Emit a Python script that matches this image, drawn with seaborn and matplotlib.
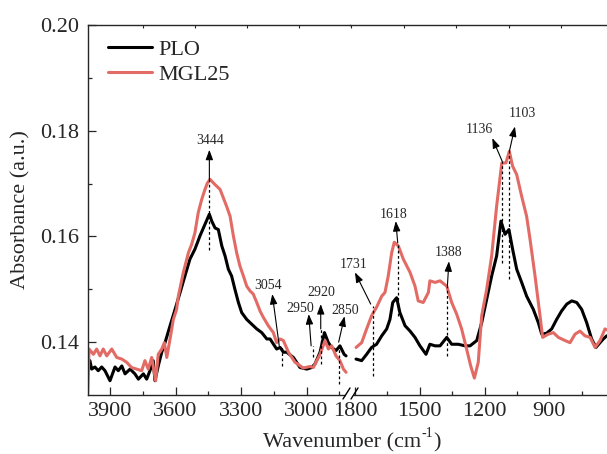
import numpy as np
import pandas as pd
import matplotlib
matplotlib.use("Agg")
import matplotlib.pyplot as plt
import seaborn as sns
from matplotlib.lines import Line2D
from matplotlib.patches import Rectangle

# ---------------- data ----------------
series_names = ["PLO", "MGL25"]

# high-wavenumber segment (4000-2800 cm-1)
plo_hi_wn = [3992, 3984, 3969, 3954, 3938, 3923, 3900, 3877, 3862, 3846, 3831, 3808, 3786, 3770,
             3747, 3732, 3717, 3702, 3694, 3679, 3663, 3648, 3625, 3602, 3579, 3557, 3534, 3511,
             3488, 3465, 3445, 3434, 3419, 3404, 3388, 3373, 3358, 3343, 3328, 3312, 3297, 3274,
             3251, 3228, 3205, 3182, 3167, 3137, 3121, 3106, 3091, 3060, 3030, 2999, 2976, 2961,
             2938, 2918, 2900, 2885, 2865, 2847, 2828, 2819]
plo_hi_abs = [0.1365, 0.1349, 0.1353, 0.1346, 0.1353, 0.1346, 0.1327, 0.1353, 0.1346, 0.1355, 0.1340, 0.1349, 0.1340, 0.1330,
              0.1340, 0.1330, 0.1346, 0.1365, 0.1327, 0.1355, 0.1381, 0.1399, 0.1431, 0.1462, 0.1494, 0.1525, 0.1557, 0.1576,
              0.1601, 0.1623, 0.1642, 0.1629, 0.1616, 0.1613, 0.1582, 0.1563, 0.1538, 0.1525, 0.1500, 0.1475, 0.1456, 0.1443,
              0.1434, 0.1425, 0.1418, 0.1406, 0.1406, 0.1387, 0.1390, 0.1381, 0.1381, 0.1371, 0.1352, 0.1349, 0.1352, 0.1359,
              0.1381, 0.1418, 0.1399, 0.1390, 0.1384, 0.1393, 0.1377, 0.1374]

mgl_hi_wn = [4003, 3996, 3976, 3961, 3946, 3931, 3915, 3892, 3869, 3846, 3824, 3801, 3778, 3755,
             3740, 3725, 3709, 3691, 3679, 3663, 3651, 3640, 3625, 3610, 3595, 3587, 3564, 3541,
             3526, 3511, 3496, 3480, 3465, 3454, 3442, 3419, 3396, 3381, 3366, 3350, 3335, 3320,
             3305, 3289, 3274, 3259, 3244, 3228, 3213, 3198, 3175, 3152, 3137, 3121, 3106, 3083,
             3053, 3015, 2984, 2969, 2938, 2915, 2900, 2885, 2865, 2847, 2831, 2819]
mgl_hi_abs = [0.1290, 0.1387, 0.1377, 0.1387, 0.1374, 0.1387, 0.1374, 0.1387, 0.1371, 0.1368, 0.1362, 0.1352, 0.1349, 0.1346,
              0.1365, 0.1349, 0.1371, 0.1327, 0.1377, 0.1387, 0.1399, 0.1371, 0.1406, 0.1443, 0.1462, 0.1487, 0.1532, 0.1569,
              0.1585, 0.1607, 0.1645, 0.1670, 0.1689, 0.1701, 0.1708, 0.1698, 0.1689, 0.1673, 0.1657, 0.1638, 0.1601, 0.1569,
              0.1544, 0.1525, 0.1506, 0.1497, 0.1491, 0.1475, 0.1459, 0.1447, 0.1431, 0.1418, 0.1399, 0.1406, 0.1403, 0.1381,
              0.1362, 0.1351, 0.1354, 0.1352, 0.1377, 0.1403, 0.1387, 0.1393, 0.1374, 0.1365, 0.1349, 0.1343]

# low-wavenumber segment (1800-600 cm-1)
plo_lo_wn = [1795, 1769, 1746, 1723, 1700, 1676, 1653, 1638, 1625, 1607, 1592, 1568, 1545, 1522,
             1499, 1471, 1453, 1429, 1406, 1375, 1352, 1322, 1290, 1267, 1236, 1213, 1190, 1167,
             1144, 1124, 1105, 1087, 1070, 1051, 1028, 1005, 974, 951, 935, 912, 889, 866,
             843, 819, 796, 773, 750, 727, 704, 684, 665, 650, 634, 615]
plo_lo_abs = [0.1368, 0.1365, 0.1377, 0.1390, 0.1396, 0.1412, 0.1425, 0.1443, 0.1475, 0.1484, 0.1456, 0.1431, 0.1421, 0.1409,
              0.1393, 0.1377, 0.1396, 0.1393, 0.1393, 0.1409, 0.1396, 0.1396, 0.1393, 0.1393, 0.1403, 0.1437, 0.1481, 0.1525,
              0.1563, 0.1629, 0.1604, 0.1613, 0.1576, 0.1538, 0.1513, 0.1487, 0.1462, 0.1437, 0.1415, 0.1417, 0.1425, 0.1443,
              0.1459, 0.1472, 0.1478, 0.1475, 0.1462, 0.1437, 0.1406, 0.1390, 0.1399, 0.1406, 0.1412, 0.1412]

mgl_lo_wn = [1795, 1769, 1746, 1723, 1700, 1676, 1661, 1646, 1630, 1618, 1599, 1576, 1545, 1522,
             1507, 1484, 1460, 1453, 1429, 1406, 1375, 1352, 1329, 1306, 1283, 1264, 1247, 1229,
             1213, 1190, 1167, 1144, 1120, 1101, 1085, 1070, 1051, 1028, 1005, 989, 966, 943,
             931, 905, 881, 858, 827, 804, 781, 758, 735, 711, 688, 665, 642, 615]
mgl_lo_abs = [0.1390, 0.1399, 0.1425, 0.1450, 0.1466, 0.1487, 0.1494, 0.1525, 0.1569, 0.1589, 0.1582, 0.1557, 0.1532, 0.1506,
              0.1478, 0.1475, 0.1494, 0.1516, 0.1513, 0.1516, 0.1506, 0.1475, 0.1453, 0.1425, 0.1387, 0.1355, 0.1332, 0.1362,
              0.1450, 0.1500, 0.1563, 0.1657, 0.1739, 0.1739, 0.1761, 0.1733, 0.1717, 0.1676, 0.1638, 0.1594, 0.1525, 0.1450,
              0.1409, 0.1415, 0.1418, 0.1409, 0.1403, 0.1399, 0.1415, 0.1421, 0.1412, 0.1409, 0.1390, 0.1403, 0.1425, 0.1420]

hi_major = [3900, 3600, 3300, 3000]
hi_minor = [3750, 3450, 3150, 2850]
lo_major = [1800, 1500, 1200, 900]
lo_minor = [1650, 1350, 1050, 750]
y_major = [0.14, 0.16, 0.18, 0.20]
y_minor = [0.15, 0.17, 0.19]

# ---------------- style ----------------
sns.set_style("ticks")
plt.rcParams["font.family"] = ["Liberation Serif", "DejaVu Serif"]

RED = "#E36B65"
palette = {"PLO": "black", "MGL25": RED}

W, H = 607, 454
fig = plt.figure(figsize=(W / 100, H / 100), dpi=100)

def fx(px):
    return px / W

def fy(py):
    return (H - py) / H

x_left, x_break, x_right = 87.5, 350.0, 613.0
y_top, y_bot = 25.0, 395.0
ax2 = fig.add_axes([fx(x_break), fy(y_bot), fx(x_right - x_break), (y_bot - y_top) / H])
ax1 = fig.add_axes([fx(x_left), fy(y_bot), fx(x_break - x_left), (y_bot - y_top) / H])
ax1.set_facecolor("none")
ax2.set_facecolor("none")

def make_df(wn_a, ab_a, wn_b, ab_b):
    a = pd.DataFrame({"wavenumber": wn_a, "absorbance": ab_a, "sample": series_names[0]})
    b = pd.DataFrame({"wavenumber": wn_b, "absorbance": ab_b, "sample": series_names[1]})
    return pd.concat([a, b], ignore_index=True)

df_hi = make_df(plo_hi_wn, plo_hi_abs, mgl_hi_wn, mgl_hi_abs)
df_lo = make_df(plo_lo_wn, plo_lo_abs, mgl_lo_wn, mgl_lo_abs)

for ax, df in ((ax1, df_hi), (ax2, df_lo)):
    sns.lineplot(data=df, x="wavenumber", y="absorbance", hue="sample",
                 hue_order=series_names, palette=palette, sort=False,
                 estimator=None, linewidth=2.2, ax=ax, legend=False)
    ax.set_ylim(0.13, 0.20)
    ax.set_xlabel("")
    ax.set_ylabel("")
    for s in ax.spines.values():
        s.set_linewidth(1.0)
    ax.spines["right"].set_visible(False)
    ax.tick_params(axis="x", which="major", direction="in", length=6, width=0.9,
                   labelsize=16, pad=5, top=False)
    ax.tick_params(axis="x", which="minor", direction="in", length=3, width=0.9, top=False)

ax1.set_xlim(4003, 2801)
ax2.set_xlim(1823, 605)

ax1.set_xticks(hi_major)
ax1.set_xticks(hi_minor, minor=True)
ax2.set_xticks(lo_major)
ax2.set_xticks(lo_minor, minor=True)

ax1.set_yticks(y_major)
ax1.set_yticks(y_minor, minor=True)
ax1.set_yticklabels([f"{v:.2f}" for v in y_major])
ax1.tick_params(axis="y", which="major", direction="in", length=6, width=0.9, labelsize=16, pad=6)
ax1.tick_params(axis="y", which="minor", direction="in", length=3, width=0.9)

ax2.spines["left"].set_visible(False)
ax2.tick_params(axis="y", which="both", left=False, labelleft=False)

# ---------------- annotations ----------------
ARW = dict(arrowstyle="-|>,head_length=0.6,head_width=0.22", color="black",
           lw=0.8, shrinkA=0, shrinkB=0, mutation_scale=10)
DASH = dict(color="black", lw=0.9, ls=(0, (2.2, 2.0)))

# label, dashed-line x, dashed y0, dashed y1, arrow base (x, y), arrow tip (x, y), text (x, y)
ann_hi = [
    ("3444", 3445, 0.1575, 0.1708, (3445, 0.1708), (3445, 0.1764), (3442, 0.1781)),
    ("3054", 3114, 0.1355, 0.1393, (3125, 0.1393), (3157, 0.1491), (3175, 0.1507)),
    ("2950", 2972, 0.1371, 0.1393, (2979, 0.1393), (2990, 0.1453), (3027, 0.1464)),
    ("2920", 2935, 0.1358, 0.1425, (2935, 0.1425), (2935, 0.1472), (2932, 0.1494)),
    ("2850", 2851, 0.1321, 0.1400, (2853, 0.1400), (2826, 0.1449), (2824, 0.1459)),
]
ann_lo = [
    ("1731", 1718, 0.1336, 0.1469, (1727, 0.1472), (1800, 0.1532), (1805, 0.1547)),
    ("1618", 1602, 0.1450, 0.1588, (1602, 0.1588), (1611, 0.1629), (1622, 0.1642)),
    ("1388", 1372, 0.1374, 0.1506, (1372, 0.1506), (1365, 0.1553), (1368, 0.1569)),
    ("1136", 1118, 0.1550, 0.1742, (1118, 0.1742), (1164, 0.1786), (1226, 0.1803)),
    ("1103", 1085, 0.1519, 0.1761, (1085, 0.1761), (1059, 0.1808), (1025, 0.1832)),
]
for ax, anns in ((ax1, ann_hi), (ax2, ann_lo)):
    for lab, dx, dy0, dy1, base, tip, txt in anns:
        ax.plot([dx, dx], [dy0, dy1], clip_on=False, **DASH)
        ax.annotate("", xy=tip, xytext=base, arrowprops=ARW, annotation_clip=False)
        ax.text(txt[0], txt[1], lab, fontsize=10, ha="center", va="center", clip_on=False)

# ---------------- legend ----------------
handles = [Line2D([], [], color=palette[n], lw=2.2, label=n) for n in series_names]
ax1.legend(handles=handles, loc="upper left", bbox_to_anchor=(0.044, 0.986),
           frameon=False, fontsize=16, handlelength=2.0, handletextpad=0.25,
           labelspacing=0.2, borderaxespad=0, borderpad=0.4)

# ---------------- axis labels ----------------
renderer = fig.canvas.get_renderer()
t1 = fig.text(fx(263), fy(447), "Wavenumber (cm", fontsize=16, ha="left", va="baseline")
bb1 = t1.get_window_extent(renderer)
t2 = fig.text(bb1.x1 / W + 0.5 / W, fy(437), "-1", fontsize=10, ha="left", va="baseline")
bb2 = t2.get_window_extent(renderer)
fig.text(bb2.x1 / W + 0.5 / W, fy(447), ")", fontsize=16, ha="left", va="baseline")
fig.text(fx(21), fy(210), "Absorbance (a.u.)", fontsize=16, ha="center", va="center", rotation=90)

# ---------------- axis break marks ----------------
fig.add_artist(Rectangle((fx(346), fy(398)), fx(8), 5 / H, transform=fig.transFigure,
                         facecolor="white", edgecolor="none", zorder=5))
for x0 in (343, 351):
    fig.add_artist(Line2D([fx(x0), fx(x0 + 7)], [fy(399), fy(388)], transform=fig.transFigure,
                          color="black", lw=1.0, zorder=6))

# faint top-axis ticks
axt = fig.add_axes([fx(x_left), fy(y_bot), fx(x_right - x_left), (y_bot - y_top) / H], frameon=False)
axt.set_xlim(x_left, x_right)
axt.set_xticks([143, 195, 247, 299, 351, 404, 456, 509, 561])
axt.tick_params(axis="x", top=True, bottom=False, labelbottom=False, labeltop=False,
                direction="in", length=2, width=0.8)
axt.set_yticks([])
axt.patch.set_alpha(0)

fig.savefig("out.png", dpi=100)
